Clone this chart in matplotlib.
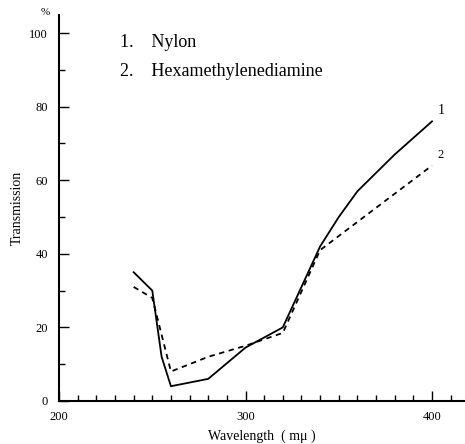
import matplotlib
matplotlib.use("Agg")
import matplotlib.pyplot as plt
from matplotlib.ticker import MultipleLocator

# Transmission spectra
nylon_wl = [240, 250, 255, 260, 280, 300, 320, 340, 350, 360, 380, 400]
nylon_t = [35, 30, 12, 4, 6, 14.5, 20, 42, 50, 57, 67, 76]
hmda_wl = [240, 250, 260, 280, 300, 320, 340, 400]
hmda_t = [31, 28, 8, 12, 15, 18.5, 41, 64]

x_ticks = [200, 300, 400]
y_ticks = [0, 20, 40, 60, 80, 100]
names = ["1.    Nylon", "2.    Hexamethylenediamine"]

plt.rcParams['font.family'] = ['Liberation Serif', 'DejaVu Serif']

fig = plt.figure(figsize=(4.65, 4.44), dpi=100)
ax = fig.add_axes([0.127, 0.097, 0.873, 0.869])

ax.plot(nylon_wl, nylon_t, color="black", lw=1.3)
ax.plot(hmda_wl, hmda_t, color="black", lw=1.3, ls=(0, (3, 2.5)))

ax.set_xlim(200, 417.7)
ax.set_ylim(0, 104.9)
ax.set_xticks(x_ticks)
ax.set_yticks(y_ticks)
ax.xaxis.set_minor_locator(MultipleLocator(10))
ax.yaxis.set_minor_locator(MultipleLocator(10))
ax.tick_params(which="major", direction="in", length=7, width=1, labelsize=9)
ax.tick_params(axis="x", which="major", pad=7)
ax.tick_params(axis="y", which="major", pad=8)
ax.tick_params(which="minor", direction="in", length=4, width=1)
ax.spines["top"].set_visible(False)
ax.spines["right"].set_visible(False)
ax.spines["left"].set_linewidth(1.5)
ax.spines["bottom"].set_linewidth(1.5)

ax.set_xlabel("Wavelength  ( m\u03bc )", fontsize=10, labelpad=5)
ax.set_ylabel("Transmission", fontsize=10, labelpad=4)
fig.text(0.097, 0.972, "%", fontsize=8, ha="center", va="center")

# curve numbers at right end
ax.text(403, 78, "1", fontsize=10)
ax.text(403, 66, "2", fontsize=9)

# key
fig.text(0.258, 0.905, names[0], fontsize=13, va="center")
fig.text(0.258, 0.840, names[1], fontsize=13, va="center")

fig.savefig("out.png", dpi=100)
